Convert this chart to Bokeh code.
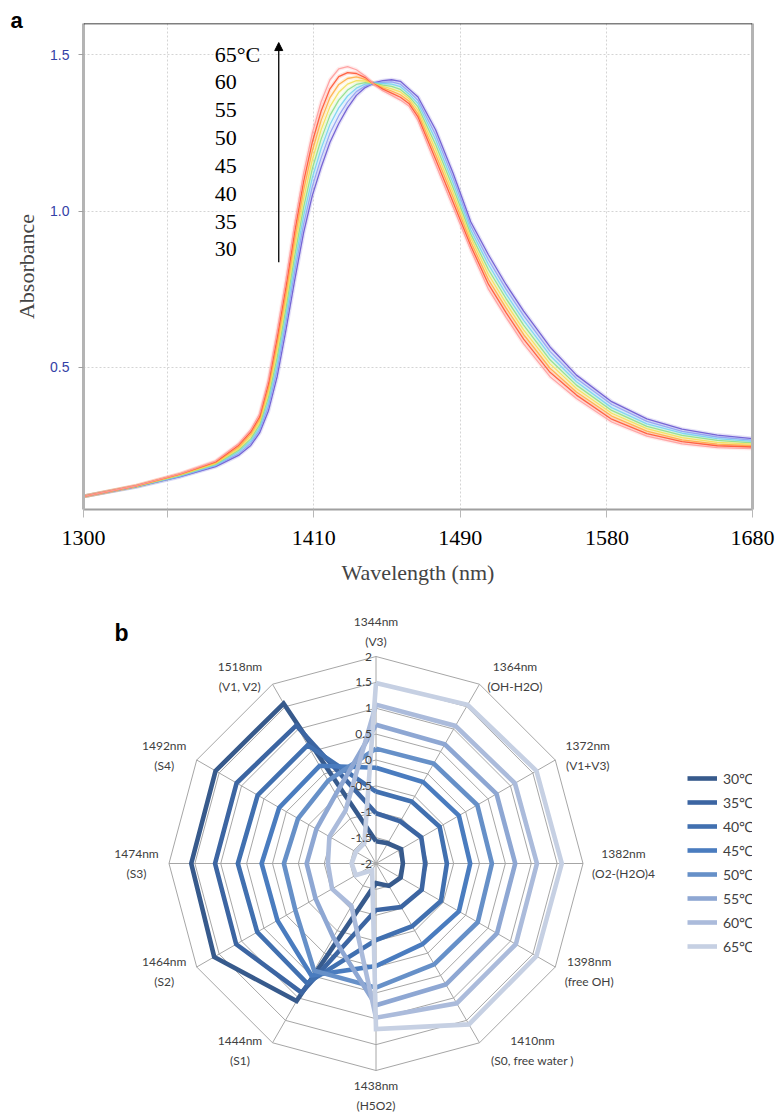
import numpy as np
from bokeh.plotting import figure
from bokeh.models import (FixedTicker, LinearAxis, Range1d, Arrow, NormalHead,
                          Label, Legend, LegendItem, Span, Title, PrintfTickFormatter)
from bokeh.layouts import column
from bokeh.embed import file_html
from bokeh.resources import INLINE
from bokeh.core.properties import value

# ---------------- Panel a : NIR spectra ----------------
wavelength = [1300, 1330, 1355, 1375, 1388, 1395, 1400, 1405, 1410, 1415,
              1420, 1425, 1430, 1435, 1440, 1445, 1450, 1455, 1460, 1465,
              1470, 1475, 1480, 1485, 1490, 1500, 1510, 1520, 1530, 1540,
              1550, 1565, 1580, 1600, 1620, 1640, 1660, 1680]

absorbance_30 = [.087, .118, .150, .182, .218, .250, .290, .360, .470, .620,
                 .780, .930, 1.050, 1.140, 1.220, 1.280, 1.330, 1.370, 1.395, 1.410,
                 1.417, 1.420, 1.415, 1.390, 1.365, 1.260, 1.120, .965, .860, .765,
                 .680, .565, .475, .390, .335, .302, .283, .272]
absorbance_35 = [.087, .118, .151, .185, .223, .257, .299, .374, .491, .643,
                 .806, .957, 1.079, 1.170, 1.249, 1.305, 1.349, 1.382, 1.400, 1.409,
                 1.412, 1.413, 1.406, 1.382, 1.354, 1.244, 1.105, .952, .844, .750,
                 .665, .551, .464, .381, .327, .295, .277, .267]
absorbance_40 = [.087, .119, .153, .187, .229, .264, .307, .389, .511, .666,
                 .831, .984, 1.107, 1.200, 1.277, 1.330, 1.368, 1.393, 1.406, 1.409,
                 1.408, 1.406, 1.398, 1.374, 1.344, 1.229, 1.089, .939, .829, .735,
                 .650, .538, .454, .371, .319, .289, .272, .263]
absorbance_45 = [.087, .119, .154, .190, .234, .271, .316, .403, .532, .689,
                 .857, 1.011, 1.136, 1.230, 1.306, 1.355, 1.387, 1.405, 1.411, 1.408,
                 1.403, 1.399, 1.389, 1.366, 1.333, 1.213, 1.074, .926, .813, .720,
                 .635, .524, .443, .362, .311, .282, .266, .258]
absorbance_50 = [.087, .120, .156, .192, .239, .279, .324, .417, .553, .711,
                 .883, 1.039, 1.164, 1.260, 1.334, 1.380, 1.406, 1.417, 1.416, 1.407,
                 1.399, 1.391, 1.381, 1.359, 1.322, 1.197, 1.058, .914, .797, .705,
                 .620, .511, .432, .353, .304, .275, .260, .254]
absorbance_55 = [.087, .120, .157, .195, .244, .286, .333, .431, .574, .734,
                 .909, 1.066, 1.193, 1.290, 1.363, 1.405, 1.424, 1.429, 1.421, 1.407,
                 1.394, 1.384, 1.372, 1.351, 1.311, 1.181, 1.043, .901, .781, .690,
                 .605, .497, .421, .344, .296, .268, .254, .249]
absorbance_60 = [.087, .121, .159, .197, .250, .293, .341, .446, .594, .757,
                 .934, 1.093, 1.221, 1.320, 1.391, 1.430, 1.443, 1.440, 1.427, 1.406,
                 1.390, 1.377, 1.364, 1.343, 1.301, 1.166, 1.027, .888, .766, .675,
                 .590, .484, .411, .334, .288, .262, .249, .245]
absorbance_65 = [.087, .121, .160, .200, .255, .300, .350, .460, .615, .780,
                 .960, 1.120, 1.250, 1.350, 1.420, 1.455, 1.462, 1.452, 1.432, 1.405,
                 1.385, 1.370, 1.355, 1.335, 1.290, 1.150, 1.012, .875, .750, .660,
                 .575, .470, .400, .325, .280, .255, .243, .240]

spectra = [absorbance_30, absorbance_35, absorbance_40, absorbance_45,
           absorbance_50, absorbance_55, absorbance_60, absorbance_65]
spectra_colors = ["#6a58d0", "#8fa2f2", "#78d2ee", "#8ede8a",
                  "#f2e05a", "#ffad45", "#ff5533", "#ff9c9c"]

x_tick_pos = [1300, 1347.7, 1430.8, 1514.0, 1597.3, 1680]
x_tick_labels = ["1300", "", "1410", "1490", "1580", "1680"]
y_ticks = [0.5, 1.0, 1.5]
stack_labels = ["65°C", "60", "55", "50", "45", "40", "35", "30"]

# ---------------- Panel b : radar ----------------
spoke_labels = ["1344nm\n(V3)", "1364nm\n(OH-H2O)", "1372nm\n(V1+V3)",
                "1382nm\n(O2-(H2O)4", "1398nm\n(free OH)", "1410nm\n(S0, free water )",
                "1438nm\n(H5O2)", "1444nm\n(S1)", "1464nm\n(S2)", "1474nm\n(S3)",
                "1492nm\n(S4)", "1518nm\n(V1, V2)"]
radar_30 = [-1.57, -1.55, -1.44, -1.48, -1.45, -1.50, -1.62, 1.07, 1.61, 1.57, 1.58, 1.57]
radar_35 = [-1.03, -1.06, -0.99, -1.05, -0.98, -1.03, -1.10, 0.88, 1.12, 1.11, 1.11, 1.08]
radar_40 = [-0.61, -0.62, -0.58, -0.63, -0.55, -0.60, -0.52, 0.67, 0.65, 0.67, 0.64, 0.64]
radar_45 = [-0.15, -0.18, -0.15, -0.18, -0.15, -0.20, -0.02, 0.50, 0.20, 0.21, 0.16, 0.18]
radar_50 = [0.22, 0.23, 0.26, 0.24, 0.27, 0.25, 0.40, 0.39, -0.20, -0.22, -0.26, -0.15]
radar_55 = [0.68, 0.66, 0.69, 0.69, 0.70, 0.70, 0.74, -0.35, -0.65, -0.66, -0.67, -0.45]
radar_60 = [1.07, 1.07, 1.10, 1.11, 1.12, 1.12, 0.98, -1.05, -1.02, -1.07, -0.96, -0.82]
radar_65 = [1.49, 1.54, 1.58, 1.59, 1.58, 1.59, 1.20, -1.85, -1.55, -1.53, -1.55, -1.55]
radar_series = [radar_30, radar_35, radar_40, radar_45, radar_50, radar_55, radar_60, radar_65]
legend_labels = ["30℃", "35℃", "40℃", "45℃", "50℃", "55℃", "60℃", "65℃"]
radar_colors = ["#375a8c", "#3c65a2", "#4170b0", "#4a7cbf", "#6690c8", "#8ea7d3", "#abbbdb", "#c6d0e3"]
radar_ticks = [-2, -1.5, -1, -0.5, 0, 0.5, 1, 1.5, 2]
radar_tick_labels = ["-2", "-1.5", "-1", "-0.5", "0", "0.5", "1", "1.5", "2"]

# layout constants (pixels)
LEFT, RIGHT = 83, 26
W = 778

# =============== figure a ===============
p1 = figure(width=W, height=600, x_range=Range1d(1300, 1680), y_range=Range1d(0.045, 1.6),
            output_backend="svg", toolbar_location=None,
            min_border_left=LEFT, min_border_right=RIGHT, min_border_top=23, min_border_bottom=91,
            outline_line_color=None)

p1.add_layout(Title(text="a", align="left", offset=-73, standoff=-18,
                    text_font="Liberation Sans", text_font_style="bold",
                    text_font_size="22px", text_color="black"), "above")

xt = FixedTicker(ticks=x_tick_pos)
yt = FixedTicker(ticks=y_ticks)
p1.xaxis.ticker = xt
p1.xaxis.major_label_overrides = {t: l for t, l in zip(x_tick_pos, x_tick_labels)}
p1.xaxis.axis_label = "Wavelength (nm)"
p1.xaxis.axis_line_color = "#a0a0a0"
p1.xaxis.axis_line_width = 2
p1.xaxis.major_tick_in = 0
p1.xaxis.major_tick_out = 8
p1.xaxis.major_tick_line_color = "#b8b8b8"
p1.xaxis.minor_tick_line_color = None
p1.xaxis.major_label_text_font = "Liberation Serif"
p1.xaxis.major_label_text_font_size = "22px"
p1.xaxis.major_label_text_color = "black"
p1.xaxis.major_label_standoff = 13
p1.xaxis.axis_label_text_font = "Liberation Serif"
p1.xaxis.axis_label_text_font_size = "22px"
p1.xaxis.axis_label_text_font_style = "normal"
p1.xaxis.axis_label_standoff = 12

p1.yaxis.ticker = yt
p1.yaxis.formatter = PrintfTickFormatter(format="%.1f")
p1.yaxis.axis_label = "Absorbance"
p1.yaxis.axis_line_color = "#b4b4b4"
p1.yaxis.axis_line_width = 3
p1.yaxis.major_tick_in = 0
p1.yaxis.major_tick_out = 5
p1.yaxis.major_tick_line_color = "#a0a0a0"
p1.yaxis.minor_tick_line_color = None
p1.yaxis.major_label_text_font = "Liberation Sans"
p1.yaxis.major_label_text_font_size = "14px"
p1.yaxis.major_label_text_color = "#3441a6"
p1.yaxis.major_label_standoff = 9
p1.yaxis.axis_label_text_font = "Liberation Serif"
p1.yaxis.axis_label_text_font_size = "22px"
p1.yaxis.axis_label_text_font_style = "normal"
p1.yaxis.axis_label_standoff = 8

right_axis = LinearAxis(ticker=FixedTicker(ticks=[]), axis_line_color="#b4b4b4", axis_line_width=3,
                        major_tick_line_color=None, minor_tick_line_color=None)
p1.add_layout(right_axis, "right")
p1.add_layout(Span(location=1.6, dimension="width", line_color="black", line_width=1.5))

p1.xgrid.ticker = xt
p1.ygrid.ticker = yt
p1.xgrid.grid_line_color = "#d4d4d4"
p1.ygrid.grid_line_color = "#d4d4d4"
p1.xgrid.grid_line_dash = "2 2"
p1.ygrid.grid_line_dash = "2 2"

for ab, col in zip(spectra, spectra_colors):
    p1.line(wavelength, ab, line_color=col, line_width=4, line_alpha=0.18)
for ab, col in zip(spectra, spectra_colors):
    p1.line(wavelength, ab, line_color=col, line_width=1.3, line_alpha=0.9)

stack_x = [1374.5] * len(stack_labels)
stack_y = [1.501 - 0.0891 * i for i in range(len(stack_labels))]
p1.text(x=stack_x, y=stack_y, text=stack_labels, text_font=value("Liberation Serif"),
        text_font_size="22px", text_color="black", text_align="left", text_baseline="middle")

p1.add_layout(Arrow(end=NormalHead(size=8, fill_color="black", line_color="black", line_width=1),
                    x_start=1410.9, y_start=0.836, x_end=1410.9, y_end=1.539,
                    line_color="black", line_width=1.3))

# =============== figure b ===============
PX = 51.75           # pixels per radial unit
CX, CY = 375.5, 263  # radar centre inside figure b (pixels from left / top)
H2 = 513
FR_W = W - LEFT - RIGHT
p2 = figure(width=W, height=H2,
            x_range=Range1d(-(CX - LEFT) / PX, (LEFT + FR_W - CX) / PX),
            y_range=Range1d(-(H2 - CY) / PX, CY / PX),
            output_backend="svg", toolbar_location=None,
            min_border_left=LEFT, min_border_right=RIGHT, min_border_top=0, min_border_bottom=0,
            x_axis_type=None, y_axis_type=None, outline_line_color=None)
p2.grid.visible = False

n = len(spoke_labels)
ang = np.arange(n) * 2 * np.pi / n
ang_c = np.append(ang, ang[0])

ring_xs, ring_ys = [], []
for v in radar_ticks[1:]:
    r = v + 2
    ring_xs.append(list(r * np.sin(ang_c)))
    ring_ys.append(list(r * np.cos(ang_c)))
for a in ang:
    ring_xs.append([0, 4 * np.sin(a)])
    ring_ys.append([0, 4 * np.cos(a)])
p2.multi_line(ring_xs, ring_ys, line_color="#a6a6a6", line_width=1)

renderers = []
for vals, col in zip(radar_series, radar_colors):
    r = np.append(np.array(vals) + 2, vals[0] + 2)
    rr = p2.line(r * np.sin(ang_c), r * np.cos(ang_c), line_color=col, line_width=4.6,
                 line_join="miter")
    renderers.append(rr)

# radial tick labels
p2.text(x=[-4 / PX] * len(radar_ticks), y=[v + 2 for v in radar_ticks], text=radar_tick_labels,
        text_font=value("Lato"), text_font_size="12px", text_color="#404040",
        text_align="right", text_baseline="middle")

# spoke labels
cw = {" ": 2.8, "(": 4.0, ")": 4.0, ",": 3.0, "-": 4.0, "+": 7.0, "m": 10.3, "n": 6.7,
      "f": 4.0, "r": 4.6, "t": 4.4, "w": 9.2}
def est_w(s):
    tot = 0
    for ch in s:
        if ch in cw:
            tot += cw[ch]
        elif ch.isdigit():
            tot += 7.0
        elif ch.isupper():
            tot += 8.0
        else:
            tot += 6.2
    return tot

lx, ly = [], []
for k, lab in enumerate(spoke_labels):
    s, c = np.sin(ang[k]), np.cos(ang[k])
    tx, ty = 4 * s, 4 * c
    w = max(est_w(t) for t in lab.split("\n")) / PX
    if abs(s) < 1e-6:
        lx.append(tx)
        ly.append(ty + np.sign(c) * 25 / PX)
    else:
        lx.append(tx + np.sign(s) * (10 / PX + w / 2))
        ly.append(ty + c * 9 / PX)
p2.text(x=lx, y=ly, text=spoke_labels, text_font=value("Lato"), text_font_size="12px",
        text_color="#404040", text_align="center", text_baseline="middle", text_line_height=1.35)

legend = Legend(items=[LegendItem(label=l, renderers=[r]) for l, r in zip(legend_labels, renderers)],
                location=(687 - LEFT, 157), glyph_width=30, glyph_height=20, label_height=20,
                spacing=4, padding=0, margin=0, label_standoff=6,
                border_line_color=None, background_fill_alpha=0,
                label_text_font="Lato", label_text_font_size="14px", label_text_color="#404040")
p2.add_layout(legend)

p2.add_layout(Label(x=(121 - CX) / PX, y=(CY - 32) / PX, text="b", text_font="Liberation Sans",
                    text_font_style="bold", text_font_size="23px", text_color="black",
                    text_align="center", text_baseline="middle"))

layout = column(p1, p2)
open("out.html", "w").write(file_html(layout, INLINE))
